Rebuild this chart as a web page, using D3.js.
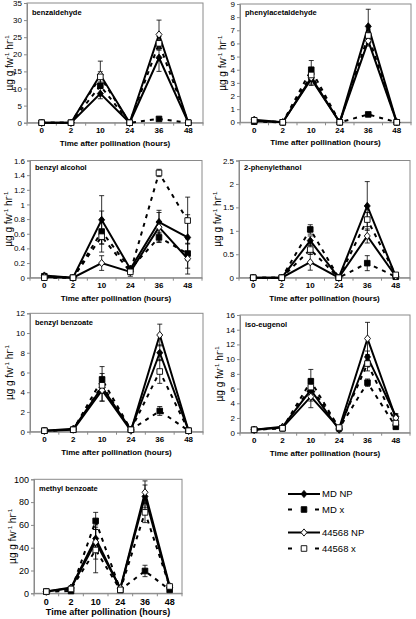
<!DOCTYPE html>
<html><head><meta charset="utf-8">
<script src="https://cdn.jsdelivr.net/npm/d3@7"></script>
<style>
body{margin:0;background:#fff}
svg{display:block}
text{font-family:"Liberation Sans",Arial,sans-serif;fill:#000}
</style>
</head><body>
<svg id="c" width="416" height="619"></svg>
<script>
// ---------- DATA ----------
const times = ["0","2","10","24","36","48"];
const seriesNames = ["MD NP","MD x","44568 NP","44568 x"];
const compounds = ["benzaldehyde","phenylacetaldehyde","benzyl alcohol","2-phenylethanol","benzyl benzoate","iso-eugenol","methyl benzoate"];

// tick labels per panel
const ticksBenzaldehyde = [0,5,10,15,20,25,30,35];
const ticksPhenylacetaldehyde = [0,1,2,3,4,5,6,7,8,9];
const ticksBenzylAlcohol = [0,0.2,0.4,0.6,0.8,1,1.2,1.4,1.6];
const ticksPhenylethanol = [0,0.5,1,1.5,2,2.5];
const ticksBenzylBenzoate = [0,2,4,6,8,10,12];
const ticksIsoEugenol = [0,2,4,6,8,10,12,14,16];
const ticksMethylBenzoate = [0,20,40,60,80,100];

// values: [MD NP, MD x, 44568 NP, 44568 x], each over times
const benzaldehyde = [
  [0,0,8.5,0,19,0],
  [0,0,10.8,0,1.1,0],
  [0,0,14,0,25.8,0],
  [0,0,13.4,0,23.2,0]];
const benzaldehydeErr = [
  [0,0,1.5,0,4,0],
  [0,0,0,0,0,0],
  [0,0,4,0,4.2,0],
  [0,0,1.5,0,2,0]];

const phenylacetaldehyde = [
  [0.1,0,3.3,0,7.3,0],
  [0.05,0,4.0,0,0.6,0],
  [0.2,0,3.4,0,6.2,0],
  [0.15,0,3.6,0,6.6,0]];
const phenylacetaldehydeErr = [
  [0,0,0.4,0,1.3,0],
  [0,0,0.7,0,0.1,0],
  [0,0,0.6,0,0.4,0],
  [0,0,0.3,0,0.5,0]];

const benzylAlcohol = [
  [0.03,0,0.79,0.12,0.76,0.55],
  [0.02,0,0.63,0.12,0.55,0.33],
  [0.01,0,0.2,0.08,0.69,0.26],
  [0,0,0.56,0.08,1.43,0.78]];
const benzylAlcoholErr = [
  [0.02,0,0.33,0.03,0.16,0.31],
  [0,0,0.28,0.03,0.07,0.2],
  [0,0,0.1,0.03,0.2,0.21],
  [0,0,0.1,0.06,0.05,0.32]];

const phenylethanol = [
  [0,0,0.79,0,1.53,0.03],
  [0,0,1.03,0,0.31,0.02],
  [0,0,0.33,0,0.89,0.03],
  [0,0,0.6,0,1.24,0.06]];
const phenylethanolErr = [
  [0,0,0.1,0,0.52,0],
  [0,0,0.1,0,0.16,0],
  [0,0,0.17,0,0.15,0],
  [0,0,0.1,0,0.15,0]];

const benzylBenzoate = [
  [0.1,0.3,4.5,0.2,8.0,0.1],
  [0.1,0.2,5.3,0.2,2.1,0.1],
  [0.1,0.2,4.2,0.1,9.8,0.1],
  [0.1,0.2,4.7,0.2,6.1,0.1]];
const benzylBenzoateErr = [
  [0,0,1.4,0,0.8,0],
  [0,0,1.3,0,0.45,0],
  [0,0,1.1,0,1.1,0],
  [0,0,0.8,0,1.2,0]];

const isoEugenol = [
  [0.4,0.8,5.8,0.4,10.3,2.2],
  [0.4,0.6,7.0,0.6,6.8,0.8],
  [0.4,0.7,4.9,0.6,12.8,2.0],
  [0.4,0.6,6.2,0.7,9.4,1.3]];
const isoEugenolErr = [
  [0,0.1,1.5,0.2,0.8,0.4],
  [0,0,1.6,0.3,0.5,0.3],
  [0,0.1,1.5,0.3,2.2,0.5],
  [0,0,1.0,0.2,1.0,0.4]];

const methylBenzoate = [
  [1.5,5,48,4,85,5],
  [1.5,2,63.5,3,19.6,3],
  [1.5,4.5,45,4.5,88.6,6.5],
  [1.5,3.8,38,3,71,6]];
const methylBenzoateErr = [
  [0,1,8,1,10,1],
  [0,1,7.5,1,5,1],
  [0,1,15,1,10,1],
  [0,1,20,1,9,1]];

const panelValues = [benzaldehyde, phenylacetaldehyde, benzylAlcohol, phenylethanol, benzylBenzoate, isoEugenol, methylBenzoate];
const panelErrors = [benzaldehydeErr, phenylacetaldehydeErr, benzylAlcoholErr, phenylethanolErr, benzylBenzoateErr, isoEugenolErr, methylBenzoateErr];
const panelTicks = [ticksBenzaldehyde, ticksPhenylacetaldehyde, ticksBenzylAlcohol, ticksPhenylethanol, ticksBenzylBenzoate, ticksIsoEugenol, ticksMethylBenzoate];

// ---------- LAYOUT ----------
const layout = [
  {x0:27, x1:203, y0:3,   y1:122.7, ytx:9,   lab:12, fs:8, ts:8, ls:7.5, ys:10},
  {x0:240,x1:411, y0:4,   y1:122.3, ytx:222, lab:11, fs:8, ts:8, ls:7.5, ys:10},
  {x0:30, x1:202, y0:160.5,y1:277.7,ytx:8,   lab:9,  fs:8, ts:8, ls:7.5, ys:10},
  {x0:239,x1:410, y0:160.5,y1:277.7,ytx:217, lab:9,  fs:8, ts:8, ls:7.5, ys:10},
  {x0:30, x1:203, y0:313.3,y1:431.7,ytx:9,   lab:12, fs:8, ts:8, ls:7.5, ys:10},
  {x0:240,x1:410, y0:315, y1:432.7, ytx:219, lab:12, fs:8, ts:8, ls:7.5, ys:10},
  {x0:34, x1:182, y0:479.3,y1:593.3,ytx:12,  lab:12, fs:9, ts:9, ls:7.5, ys:10}
];

const styles = [
  {dash:null,  marker:"diamond", fill:"#000"},
  {dash:"4,5", marker:"square",  fill:"#000"},
  {dash:null,  marker:"diamond", fill:"#fff"},
  {dash:"4,5", marker:"square",  fill:"#fff"}
];

const svg = d3.select("#c");
const gray = "#8a8a8a";

function markerPath(kind){
  if(kind==="diamond") return "M0,-3.6L3,0L0,3.6L-3,0Z";
  return "M-2.8,-2.8H2.8V2.8H-2.8Z";
}

compounds.forEach((name,pi)=>{
  const L = layout[pi];
  const ticks = panelTicks[pi];
  const g = svg.append("g");
  const x = d3.scaleBand().domain(times).range([L.x0,L.x1]);
  const y = d3.scaleLinear().domain([0,d3.max(ticks)]).range([L.y1,L.y0]);
  const cx = t => x(t)+x.bandwidth()/2;

  // frame
  g.append("rect").attr("x",L.x0).attr("y",L.y0).attr("width",L.x1-L.x0).attr("height",L.y1-L.y0)
    .attr("fill","none").attr("stroke",gray).attr("stroke-width",1);

  // y axis
  const ya = d3.axisLeft(y).tickValues(ticks).tickSize(3).tickPadding(2)
      .tickFormat(d=>String(+d.toFixed(2)));
  const yg = g.append("g").attr("transform",`translate(${L.x0},0)`).call(ya);
  yg.select(".domain").attr("stroke",gray);
  yg.selectAll(".tick line").attr("stroke",gray);
  yg.selectAll(".tick text").attr("font-size",L.fs).attr("fill","#111")
    .style("font-family","'Liberation Sans',Arial,sans-serif");

  // x axis
  const xa = d3.axisBottom(x).tickSize(0).tickPadding(5);
  const xg = g.append("g").attr("transform",`translate(0,${L.y1})`).call(xa);
  xg.select(".domain").attr("stroke",gray);
  xg.selectAll(".tick text").attr("font-size",L.fs).attr("font-weight","bold")
    .style("font-family","'Liberation Sans',Arial,sans-serif");
  // boundary ticks
  g.selectAll(".bt").data(times.concat(["end"])).enter().append("line")
    .attr("x1",(d,i)=> i<times.length ? x(d) : L.x1)
    .attr("x2",(d,i)=> i<times.length ? x(d) : L.x1)
    .attr("y1",L.y1).attr("y2",L.y1+3).attr("stroke",gray);

  // x title
  g.append("text").attr("x",(L.x0+L.x1)/2).attr("y",L.y1+ (pi===6?21.5:23))
    .attr("text-anchor","middle").attr("font-size",L.ts).attr("font-weight","bold")
    .text("Time after pollination (hours)");

  // y title
  const yt = g.append("text").attr("transform",`translate(${L.ytx+3.5},${(L.y0+L.y1)/2}) rotate(-90)`)
    .attr("text-anchor","middle").attr("font-size",L.ys);
  yt.append("tspan").text("µg g fw");
  yt.append("tspan").attr("dy",-4).attr("font-size",L.ys*0.62).text("-1");
  yt.append("tspan").attr("dy",4).text(" hr");
  yt.append("tspan").attr("dy",-4).attr("font-size",L.ys*0.62).text("-1");

  // compound label
  g.append("text").attr("x",L.x0+5).attr("y",L.y0+L.lab).attr("font-size",L.ls)
    .attr("font-weight","bold").text(name);

  const vals = panelValues[pi], errs = panelErrors[pi];

  // error bars
  vals.forEach((sv,si)=>{
    sv.forEach((v,ti)=>{
      const e = errs[si][ti];
      if(!e) return;
      const px = cx(times[ti]);
      const lo = y(Math.max(0,v-e)), hi = y(v+e);
      g.append("line").attr("x1",px).attr("x2",px).attr("y1",lo).attr("y2",hi)
        .attr("stroke","#000").attr("stroke-width",0.8);
      [lo,hi].forEach(yy=>g.append("line").attr("x1",px-2.5).attr("x2",px+2.5)
        .attr("y1",yy).attr("y2",yy).attr("stroke","#000").attr("stroke-width",0.8));
    });
  });

  // lines
  const line = d3.line().x((d,i)=>cx(times[i])).y(d=>y(d));
  vals.forEach((sv,si)=>{
    g.append("path").attr("d",line(sv)).attr("fill","none").attr("stroke","#000")
      .attr("stroke-width",2).attr("stroke-dasharray",styles[si].dash);
  });
  // markers
  vals.forEach((sv,si)=>{
    g.selectAll(null).data(sv).enter().append("path")
      .attr("d",markerPath(styles[si].marker))
      .attr("transform",(d,i)=>`translate(${cx(times[i])},${y(d)})`)
      .attr("fill",styles[si].fill).attr("stroke","#000").attr("stroke-width",0.9);
  });
});

// ---------- LEGEND ----------
const legY = [494, 509.5, 532.5, 548.5];
const lg = svg.append("g");
seriesNames.forEach((n,i)=>{
  const s = styles[i];
  lg.append("line").attr("x1",288).attr("x2",320).attr("y1",legY[i]).attr("y2",legY[i])
    .attr("stroke","#000").attr("stroke-width",2)
    .attr("stroke-dasharray", s.dash ? "4,23" : null);
  lg.append("path").attr("d",markerPath(s.marker))
    .attr("transform",`translate(304,${legY[i]})`)
    .attr("fill",s.fill).attr("stroke","#000").attr("stroke-width",0.9);
  lg.append("text").attr("x",322).attr("y",legY[i]+3.4).attr("font-size",9.5).text(n);
});
</script>
</body></html>
